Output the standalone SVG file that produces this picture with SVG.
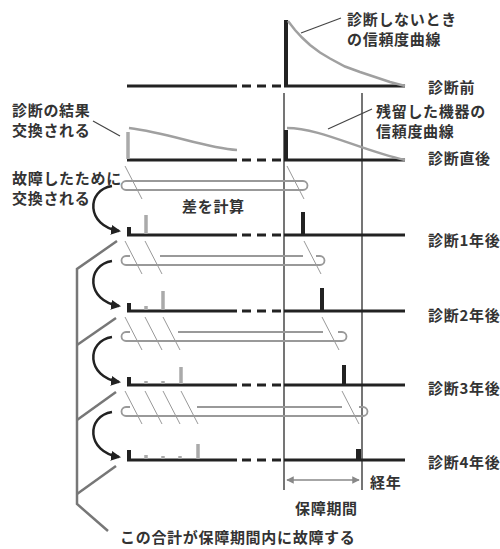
<svg xmlns="http://www.w3.org/2000/svg" width="500" height="549" viewBox="0 0 500 549">
<defs>
<style>
text{font-family:"Noto Sans CJK JP","Noto Sans",sans-serif;font-weight:700;font-size:15px;fill:#333;letter-spacing:0.7px}
.base{stroke:#222;stroke-width:3;fill:none}
.dash{stroke:#222;stroke-width:3;stroke-dasharray:9 6;fill:none}
.vline{stroke:#666;stroke-width:1.8;fill:none}
.blk{stroke:#222;stroke-width:4;fill:none}
.gbar{stroke:#aaa;stroke-width:3.5;fill:none}
.gcurve{stroke:#a0a0a0;stroke-width:2.5;fill:none}
.pin{stroke:#999;stroke-width:1.8;fill:none}
.hatch{stroke:#999;stroke-width:1;fill:none}
.lead{stroke:#444;stroke-width:1.2;fill:none}
.brk{stroke:#777;stroke-width:2.5;fill:none;stroke-linejoin:miter}
.carr{stroke:#222;stroke-width:2.5;fill:none;marker-end:url(#ah)}
.dim{stroke:#888;stroke-width:1.5;fill:none;marker-start:url(#dh2);marker-end:url(#dh)}
</style>
<marker id="ah" viewBox="0 0 10 10" refX="8" refY="5" markerWidth="4" markerHeight="4" orient="auto" markerUnits="strokeWidth">
<path d="M0,0 L10,5 L0,10 z" fill="#222"/>
</marker>
<marker id="dh" viewBox="0 0 10 10" refX="9" refY="5" markerWidth="6" markerHeight="5" orient="auto" markerUnits="strokeWidth">
<path d="M0,0 L10,5 L0,10 z" fill="#888"/>
</marker>
<marker id="dh2" viewBox="0 0 10 10" refX="1" refY="5" markerWidth="6" markerHeight="5" orient="auto" markerUnits="strokeWidth">
<path d="M10,0 L0,5 L10,10 z" fill="#888"/>
</marker>
</defs>
<rect width="500" height="549" fill="#fff"/>

<!-- guarantee period vertical lines -->
<g id="period-lines">
<line class="vline" x1="284" y1="93" x2="284" y2="490"/>
<line class="vline" x1="362" y1="93" x2="362" y2="490"/>
</g>

<!-- Row: before diagnosis -->
<g id="row-before">
<line class="base" x1="127" y1="86" x2="237" y2="86"/>
<line class="dash" x1="242" y1="86" x2="281" y2="86"/>
<line class="base" x1="284" y1="86" x2="405" y2="86"/>
<line class="blk" x1="286" y1="20" x2="286" y2="86"/>
<polyline class="gcurve" points="288,21 295,30 302,37.5 310,45 320,52.5 330,58.5 345,66.5 360,72 375,77 390,82 405,86"/>
<text x="347" y="25">診断しないとき</text>
<text x="347" y="44.5">の信頼度曲線</text>
<line class="lead" x1="341" y1="18" x2="301" y2="33"/>
<text x="428" y="93">診断前</text>
</g>

<!-- Row: right after diagnosis -->
<g id="row-after">
<line class="base" x1="127" y1="160" x2="237" y2="160"/>
<line class="dash" x1="242" y1="160" x2="281" y2="160"/>
<line class="base" x1="284" y1="160" x2="405" y2="160"/>
<line class="blk" x1="286" y1="130" x2="286" y2="160"/>
<path class="gcurve" d="M287,128 C320,128 360,150 405,160"/>
<line class="gbar" x1="128" y1="132" x2="128" y2="159"/>
<path class="gcurve" d="M129,128 C170,133 205,148 237,150"/>
<text x="376" y="117">残留した機器の</text>
<text x="376" y="136.5">信頼度曲線</text>
<line class="lead" x1="372" y1="109" x2="328" y2="129"/>
<text x="428" y="164">診断直後</text>
<text x="12" y="116">診断の結果</text>
<text x="12" y="135.5">交換される</text>
<line class="lead" x1="93" y1="121" x2="120" y2="136"/>
</g>

<!-- Row: 1 year -->
<g id="row-1y">
<line class="base" x1="127" y1="235" x2="237" y2="235"/>
<line class="dash" x1="242" y1="235" x2="281" y2="235"/>
<line class="base" x1="284" y1="235" x2="405" y2="235"/>
<line class="blk" x1="129" y1="227" x2="129" y2="235"/>
<line class="gbar" x1="146" y1="215" x2="146" y2="234"/>
<line class="blk" x1="303" y1="212" x2="303" y2="235"/>
<text x="428" y="246">診断1年後</text>
</g>

<!-- Row: 2 years -->
<g id="row-2y">
<line class="base" x1="127" y1="311" x2="237" y2="311"/>
<line class="dash" x1="242" y1="311" x2="281" y2="311"/>
<line class="base" x1="284" y1="311" x2="405" y2="311"/>
<line class="blk" x1="129" y1="303" x2="129" y2="311"/>
<line class="gbar" x1="146" y1="306" x2="146" y2="310"/>
<line class="gbar" x1="163" y1="291" x2="163" y2="310"/>
<line class="blk" x1="322" y1="288" x2="322" y2="311"/>
<text x="428" y="321">診断2年後</text>
</g>

<!-- Row: 3 years -->
<g id="row-3y">
<line class="base" x1="127" y1="385" x2="237" y2="385"/>
<line class="dash" x1="242" y1="385" x2="281" y2="385"/>
<line class="base" x1="284" y1="385" x2="405" y2="385"/>
<line class="blk" x1="129" y1="377" x2="129" y2="385"/>
<line class="gbar" x1="146" y1="381" x2="146" y2="384"/>
<line class="gbar" x1="163" y1="381" x2="163" y2="384"/>
<line class="gbar" x1="181" y1="367" x2="181" y2="384"/>
<line class="blk" x1="344" y1="365" x2="344" y2="385"/>
<text x="428" y="394">診断3年後</text>
</g>

<!-- Row: 4 years -->
<g id="row-4y">
<line class="base" x1="127" y1="460" x2="237" y2="460"/>
<line class="dash" x1="242" y1="460" x2="281" y2="460"/>
<line class="base" x1="284" y1="460" x2="405" y2="460"/>
<line class="blk" x1="129" y1="450" x2="129" y2="460"/>
<line class="gbar" x1="146" y1="455" x2="146" y2="459"/>
<line class="gbar" x1="163" y1="456" x2="163" y2="459"/>
<line class="gbar" x1="180" y1="456" x2="180" y2="459"/>
<line class="gbar" x1="198" y1="444" x2="198" y2="459"/>
<line class="blk" x1="358.5" y1="449" x2="358.5" y2="460" style="stroke-width:5"/>
<text x="428" y="468">診断4年後</text>
</g>

<!-- difference hairpins -->
<g id="hairpins">
<path class="pin" d="M303,181 H126 A4.5,4.5 0 0 0 126,190 H303 A4.5,4.5 0 0 0 303,181 Z"/>
<path class="pin" d="M130,256 H126 A4.5,4.5 0 0 0 126,265 H320 A4.5,4.5 0 0 0 320,256 H316"/>
<line class="pin" x1="160" y1="256" x2="303" y2="256"/>
<path class="pin" d="M130,332 H126 A4.5,4.5 0 0 0 126,341 H342 A4.5,4.5 0 0 0 342,332 H338"/>
<line class="pin" x1="178" y1="332" x2="323" y2="332"/>
<path class="pin" d="M130,407 H126 A4.5,4.5 0 0 0 126,416 H363 A4.5,4.5 0 0 0 363,407 H359"/>
<line class="pin" x1="197" y1="407" x2="342" y2="407"/>
<text x="182" y="212">差を計算</text>
</g>

<!-- hatch lines -->
<g id="hatches">
<line class="hatch" x1="125" y1="166" x2="142" y2="199"/>
<line class="hatch" x1="287" y1="166" x2="304" y2="199"/>
<line class="hatch" x1="125" y1="241" x2="142" y2="274"/>
<line class="hatch" x1="145" y1="241" x2="162" y2="274"/>
<line class="hatch" x1="304" y1="241" x2="321" y2="274"/>
<line class="hatch" x1="125" y1="317" x2="142" y2="350"/>
<line class="hatch" x1="145" y1="317" x2="162" y2="350"/>
<line class="hatch" x1="163" y1="317" x2="180" y2="350"/>
<line class="hatch" x1="322" y1="317" x2="339" y2="350"/>
<line class="hatch" x1="125" y1="391" x2="142" y2="424"/>
<line class="hatch" x1="145" y1="391" x2="162" y2="424"/>
<line class="hatch" x1="163" y1="391" x2="180" y2="424"/>
<line class="hatch" x1="181" y1="391" x2="198" y2="424"/>
<line class="hatch" x1="342" y1="391" x2="359" y2="424"/>
</g>

<!-- replacement arrows -->
<g id="connectors">
<path class="carr" d="M112,186 C86,190 86,226 119,231"/>
<path class="carr" d="M112,261 C86,265 86,301 119,306"/>
<path class="carr" d="M112,337 C86,341 86,377 119,382"/>
<path class="carr" d="M112,412 C86,416 86,452 119,457"/>
<text x="12" y="184">故障したために</text>
<text x="12" y="203.5">交換される</text>
</g>

<!-- sum bracket -->
<g id="bracket">
<polyline class="brk" points="117,241 77,269 77,504 108,531"/>
<line class="brk" x1="77" y1="345" x2="116" y2="318"/>
<line class="brk" x1="77" y1="420" x2="116" y2="392"/>
<line class="brk" x1="77" y1="494" x2="116" y2="466"/>
<text x="120" y="543">この合計が保障期間内に故障する</text>
</g>

<!-- period dimension -->
<g id="period">
<line class="dim" x1="287" y1="480" x2="359" y2="480"/>
<text x="370" y="488">経年</text>
<text x="295" y="514">保障期間</text>
</g>
</svg>
